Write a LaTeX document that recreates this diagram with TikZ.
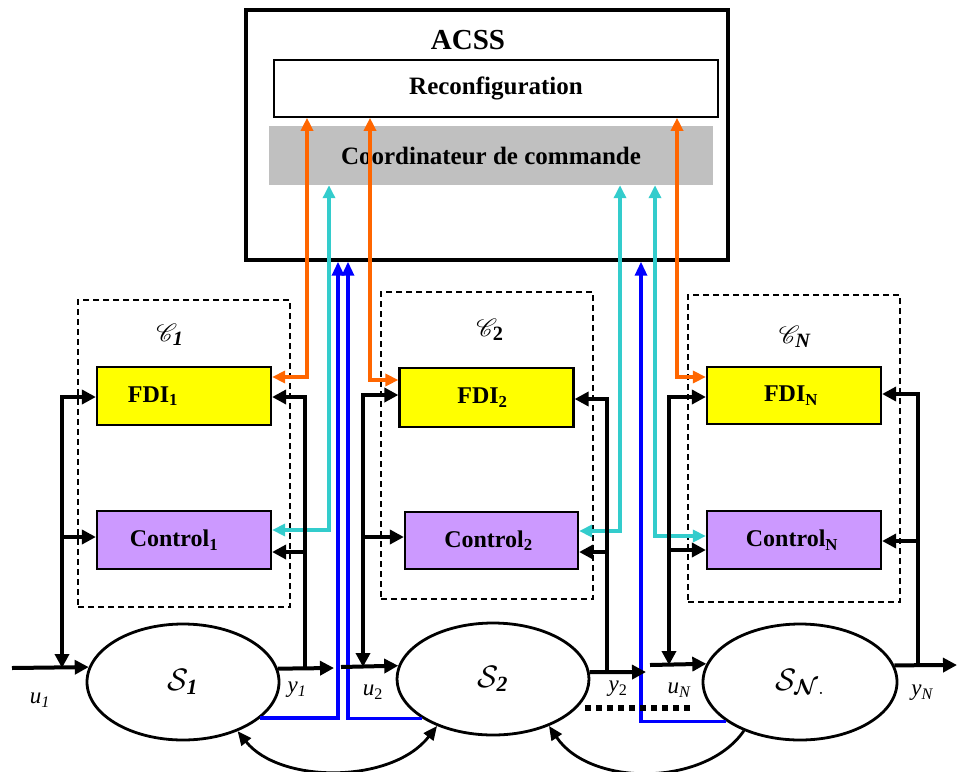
\RequirePackage{fix-cm}
\documentclass[tikz,border=0pt]{standalone}
\usepackage{amsmath}
\usepackage{mathrsfs}
\usepackage{fontspec}
\setmainfont{Liberation Serif}
\usetikzlibrary{arrows.meta,shapes.geometric}

\definecolor{orng}{RGB}{255,102,0}
\definecolor{cyn}{RGB}{51,204,204}
\definecolor{blu}{RGB}{0,0,255}
\definecolor{ylw}{RGB}{255,255,0}
\definecolor{prp}{RGB}{204,153,255}
\definecolor{gry}{RGB}{192,192,192}

\begin{document}
\begin{tikzpicture}[x=1pt,y=-1pt,
  box/.style={draw=black, line width=2.2pt, minimum width=174pt, minimum height=58pt, inner sep=0pt, font=\fontsize{24}{26}\selectfont\bfseries},
  fdibox/.style={box, fill=ylw},
  ctrlbox/.style={box, fill=prp},
  sysnode/.style={ellipse, draw, line width=2.8pt, minimum width=192pt, minimum height=116pt, inner sep=0pt, font=\fontsize{31}{33}\selectfont},
  cluster/.style={draw, dash pattern=on 6pt off 4pt, line width=1.6pt, minimum width=212pt, minimum height=307pt, inner sep=0pt},
  oline/.style={draw=orng, line width=3.6pt, >={Triangle[length=13pt,width=12pt]}},
  cline/.style={draw=cyn, line width=3.6pt, >={Triangle[length=13pt,width=12pt]}},
  bline/.style={draw=blu, line width=3.2pt, >={Triangle[length=14pt,width=12pt]}},
  bk/.style={draw=black, line width=4pt, >={Triangle[length=14pt,width=14pt]}},
  arcline/.style={draw=black, line width=2.8pt, >={Triangle[length=14pt,width=12pt]}},
  lbl/.style={inner sep=0pt, font=\fontsize{23}{25}\selectfont\itshape},
  clbl/.style={inner sep=0pt, font=\fontsize{29}{31}\selectfont}
]
\useasboundingbox (0,0) rectangle (957,771);

% ACSS block
\node[fill=gry, minimum width=444pt, minimum height=59pt, inner sep=0pt,
      font=\fontsize{25}{27}\selectfont\bfseries] (coord) at (491,155.5) {Coordinateur de commande};
\node[draw, line width=1.6pt, minimum width=444pt, minimum height=57pt, inner sep=0pt,
      font=\fontsize{25}{27}\selectfont\bfseries] (reconf) at (496,88.5) {Reconfiguration};
\node[draw, line width=3.4pt, minimum width=482pt, minimum height=250pt, inner sep=0pt] (acss) at (487,135) {};
\node[inner sep=0pt, font=\fontsize{29}{31}\selectfont\bfseries] (acsslbl) at (468,40) {ACSS};

% clusters
\node[cluster] (cl1) at (184,453.5) {};
\node[cluster] (cl2) at (487,445.5) {};
\node[cluster] (clN) at (794,448.5) {};
\node[clbl] (c1lbl) at (170,335) {$\mathscr{C}_{\textbf{\textit{1}}}$};
\node[clbl] (c2lbl) at (490,330) {$\mathscr{C}_{\textbf{2}}$};
\node[clbl] (cNlbl) at (795,337) {$\mathscr{C}_{\textbf{\textit{N}}}$};

% boxes
\node[fdibox] (FDI1) at (184,396) {FDI\textsubscript{1}\hspace*{62pt}};
\node[fdibox, minimum height=59pt] (FDI2) at (486.5,397.5) {FDI\textsubscript{2}\hspace*{8pt}};
\node[fdibox, minimum height=57pt] (FDIN) at (794,395.5) {FDI\textsubscript{N}\hspace*{6pt}};
\node[ctrlbox] (Ctrl1) at (184,540) {Control\textsubscript{1}\hspace*{20pt}};
\node[ctrlbox, minimum height=57pt, minimum width=173pt] (Ctrl2) at (491.5,540.5) {Control\textsubscript{2}\hspace*{6pt}};
\node[ctrlbox] (CtrlN) at (794,540) {Control\textsubscript{N}\hspace*{4pt}};

% systems
\node[sysnode] (S1) at (183,682) {$\mathcal{S}_{\textbf{\textit{1}}}$};
\node[sysnode, minimum height=112pt] (S2) at (493,679) {$\mathcal{S}_{\textbf{\textit{2}}}$};
\node[sysnode, minimum width=194pt] (SN) at (800,682) {$\mathcal{S}_{\boldsymbol{\mathcal{N}}.}$};

% free ends and junctions
\coordinate (u1in) at (12,668);
\coordinate (y1out) at (334,668);
\coordinate (u2in) at (341,667);
\coordinate (y2out) at (646,672);
\coordinate (uNin) at (650,665);
\coordinate (yNout) at (957,665);
\coordinate (j1c) at (60,537);
\coordinate (k1c) at (305,552);
\coordinate (j2c) at (361,537);
\coordinate (k2c) at (607,552);
\coordinate (jNc) at (667,550);
\coordinate (kNc) at (918,541);
\coordinate (dotA) at (585,708);
\coordinate (dotB) at (693,708);

% labels
\node[lbl] (u1lbl) at (40,700) {u\textsubscript{1}};
\node[lbl] (y1lbl) at (297,690) {y\textsubscript{1}};
\node[lbl] (u2lbl) at (373,692) {u\textsubscript{\textup{2}}};
\node[lbl] (y2lbl) at (618,689) {y\textsubscript{\textup{2}}};
\node[lbl] (uNlbl) at (679,690) {u\textsubscript{N}};
\node[lbl] (yNlbl) at (922,693) {y\textsubscript{N}};

% orange links
\draw[oline,<->] (FDI1.east |- 0,377) -| (reconf.south -| 307,0);
\draw[oline,<->] (reconf.south -| 370,0) |- (FDI2.west |- 0,380);
\draw[oline,<->] (reconf.south -| 677,0) |- (FDIN.west |- 0,377);

% cyan links
\draw[cline,<->] (Ctrl1.east |- 0,530) -| (coord.south -| 329,0);
\draw[cline,<->] (Ctrl2.east |- 0,531) -| (coord.south -| 620,0);
\draw[cline,<->] (coord.south -| 655,0) |- (CtrlN.west |- 0,536);

% blue links
\draw[bline,->] (S1.-25.6) -| (acss.south -| 338,0);
\draw[bline,->] (S2.209.5) -| (acss.south -| 348,0);
\draw[bline,->] (SN.208.5) -| (acss.south -| 641,0);

% black: subsystem 1
\draw[bk,->] (u1in) -- (S1.171.5);
\draw[bk,<->] (u1in -| 62,0) |- (FDI1.west |- 0,397);
\draw[bk,->] (j1c) -- (Ctrl1.west |- j1c);
\draw[bk,->] (S1.8.5) -- (y1out);
\draw[bk,->] (y1out -| 305,0) |- (FDI1.east |- 0,397);
\draw[bk,->] (k1c) -- (Ctrl1.east |- k1c);

% black: subsystem 2
\draw[bk,->] (u2in) -- (S2.172.7);
\draw[bk,<->] (u2in -| 363,0) |- (FDI2.west |- 0,395);
\draw[bk,->] (j2c) -- (Ctrl2.west |- j2c);
\draw[bk,->] (S2.4.2) -- (y2out);
\draw[bk,->] (y2out -| 607,0) |- (FDI2.east |- 0,399);
\draw[bk,->] (k2c) -- (Ctrl2.east |- k2c);

% black: subsystem N
\draw[bk,->] (uNin) -- (SN.169.8);
\draw[bk,<->] (uNin -| 669,0) |- (FDIN.west |- 0,397);
\draw[bk,->] (jNc) -- (CtrlN.west |- jNc);
\draw[bk,->] (SN.10.4) -- (yNout);
\draw[bk,->] (yNout -| 918,0) |- (FDIN.east |- 0,394);
\draw[bk,->] (kNc) -- (CtrlN.east |- kNc);

% dotted
\draw[line width=6pt, dash pattern=on 6pt off 5pt] (dotA) -- (dotB);

% interaction arcs
\draw[arcline,<->] (S1.-42) .. controls (280,784) and (392,784) .. (S2.220);
\draw[arcline,<-] (S2.-40) .. controls (590,787) and (705,787) .. (SN.221);
\end{tikzpicture}
\end{document}
